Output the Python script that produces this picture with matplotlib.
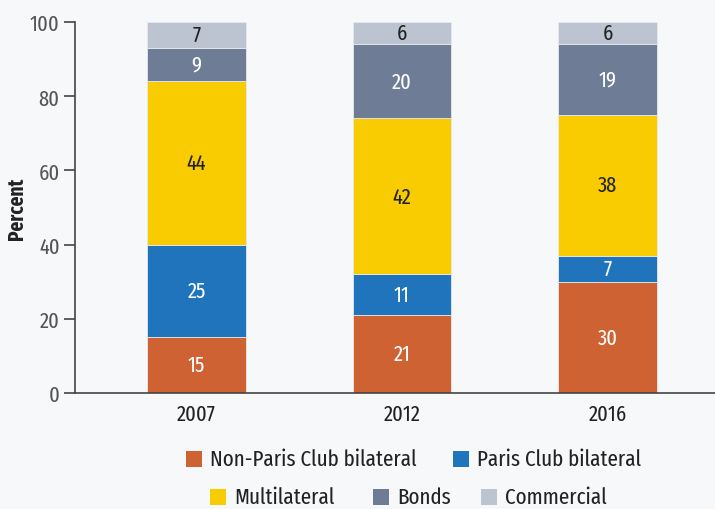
import matplotlib.pyplot as plt
from matplotlib.patches import Rectangle
from matplotlib import font_manager

# shares of external debt by creditor type, percent
years = ['2007', '2012', '2016']
non_paris = [15, 21, 30]
paris = [25, 11, 7]
multilateral = [44, 42, 38]
bonds = [9, 20, 19]
commercial = [7, 6, 6]

series = [
    ('Non-Paris Club bilateral', non_paris, '#cf6232', 'white'),
    ('Paris Club bilateral', paris, '#1f74bb', 'white'),
    ('Multilateral', multilateral, '#f8cc00', '#222222'),
    ('Bonds', bonds, '#6e7c96', 'white'),
    ('Commercial', commercial, '#bcc3d1', '#222222'),
]

names = {f.name for f in font_manager.fontManager.ttflist}
fam = next((n for n in ['Fira Sans Extra Condensed', 'PT Sans Narrow',
                        'Fira Sans Condensed'] if n in names), 'DejaVu Sans')
plt.rcParams['font.family'] = [fam, 'DejaVu Sans']

bg = '#f6f8fa'
fig = plt.figure(figsize=(7.15, 5.10), dpi=100, facecolor=bg)
ax = fig.add_axes([75 / 715, 1 - 394 / 510, 1 - 75 / 715, (394 - 23) / 510])
ax.set_facecolor(bg)

x = range(len(years))
bottom = [0] * len(years)
for name, vals, color, tcol in series:
    ax.bar(x, vals, width=0.48, bottom=bottom, color=color,
           edgecolor='#e6e9ee', linewidth=0.6)
    for i, v in enumerate(vals):
        ax.text(i, bottom[i] + v / 2, str(v), ha='center', va='center',
                fontsize=16, color=tcol)
    bottom = [b + v for b, v in zip(bottom, vals)]

ax.set_xlim(-0.591, 2.523)
ax.set_ylim(0, 100)
ax.set_yticks([0, 20, 40, 60, 80, 100])
ax.set_xticks(list(x))
ax.set_xticklabels(years, fontsize=16, color='#222222')
ax.tick_params(axis='x', length=0, pad=7)
ax.tick_params(axis='y', length=8, width=1.2, color='#444444',
               labelsize=16, labelcolor='#555555', pad=3)
for s in ['top', 'right']:
    ax.spines[s].set_visible(False)
for s in ['left', 'bottom']:
    ax.spines[s].set_color('#444444')
    ax.spines[s].set_linewidth(1.2)
ax.set_ylabel('Percent', fontsize=15, fontweight='bold', color='#222222')
ax.yaxis.set_label_coords(-0.074, 0.5)

# legend, two rows laid out by hand
legend_pos = [(186, 460), (453, 460), (210, 498), (373, 498), (481, 498)]
W, H = 715, 510
for (name, vals, color, tcol), (px, py) in zip(series, legend_pos):
    sq = 16
    fig.add_artist(Rectangle((px / W, 1 - (py + sq / 2) / H), sq / W, sq / H,
                             transform=fig.transFigure, facecolor=color,
                             edgecolor='none'))
    fig.text((px + 24) / W, 1 - py / H, name, ha='left', va='center',
             fontsize=16.5, color='#222222')

fig.savefig('out.png', dpi=100, facecolor=bg)
